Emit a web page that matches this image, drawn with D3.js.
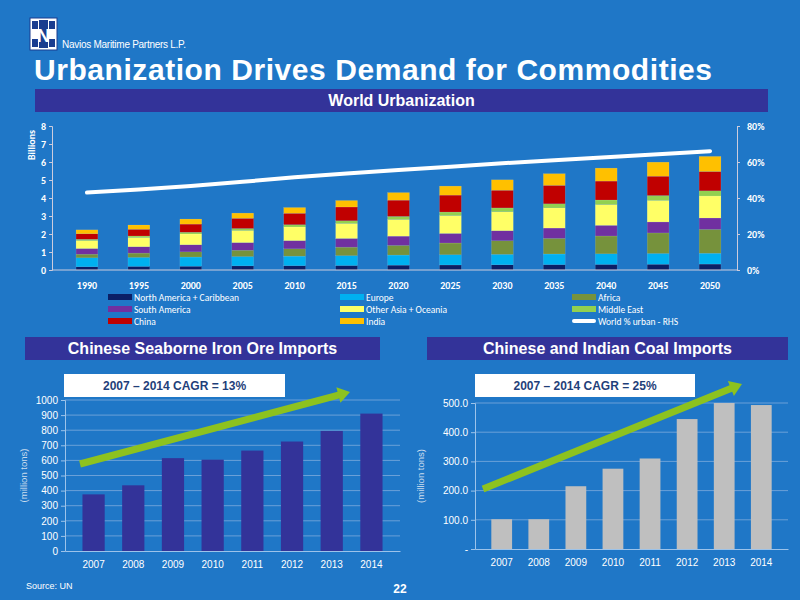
<!DOCTYPE html>
<html><head><meta charset="utf-8">
<script src="https://cdn.jsdelivr.net/npm/d3@7"></script>
<style>body{margin:0;background:#1f77c7}svg{display:block}</style>
</head><body><svg width="800" height="600"></svg>
<script>
const years=["1990","1995","2000","2005","2010","2015","2020","2025","2030","2035","2040","2045","2050"];
const northAmerica=[0.18,0.2,0.21,0.23,0.24,0.25,0.27,0.28,0.29,0.3,0.31,0.32,0.33];
const europe=[0.5,0.5,0.51,0.52,0.53,0.55,0.56,0.57,0.58,0.59,0.59,0.6,0.6];
const africa=[0.2,0.24,0.29,0.35,0.41,0.47,0.54,0.65,0.76,0.87,0.99,1.14,1.33];
const southAmerica=[0.31,0.35,0.39,0.42,0.45,0.48,0.51,0.53,0.55,0.57,0.59,0.61,0.63];
const otherAsia=[0.45,0.52,0.6,0.68,0.76,0.84,0.93,1.0,1.06,1.12,1.16,1.2,1.22];
const middleEast=[0.07,0.08,0.1,0.11,0.13,0.15,0.17,0.19,0.21,0.23,0.25,0.27,0.29];
const china=[0.3,0.37,0.45,0.56,0.63,0.76,0.9,0.94,0.98,1.02,1.05,1.07,1.07];
const india=[0.22,0.24,0.28,0.29,0.32,0.36,0.42,0.5,0.58,0.65,0.72,0.78,0.84];
const urbanPct=[43,44.7,46.6,49,51.5,53.6,55.5,57.4,59.3,61,62.6,64.3,66];
const importYears=["2007","2008","2009","2010","2011","2012","2013","2014"];
const ironOre=[375,435,615,605,665,725,795,910];
const coal=[102,102,215,275,310,445,500,493];

const svg=d3.select("svg");
const F="Liberation Sans, Arial, sans-serif";
const CF="Carlito, Liberation Sans, Arial, sans-serif";
svg.append("rect").attr("width",800).attr("height",600).attr("fill","#1f77c7");
const lg=svg.append("g").attr("transform","translate(30,18)");
lg.append("rect").attr("width",27).attr("height",32).attr("fill","#fff").attr("stroke","#1a3d8f");
[[2,3],[2,21],[19,3],[19,21]].forEach(p=>lg.append("rect").attr("x",p[0]).attr("y",p[1]).attr("width",6).attr("height",8).attr("fill","#1a3d8f"));
lg.append("rect").attr("x",9).attr("y",2).attr("width",9).attr("height",28).attr("fill","#1a3d8f");
lg.append("text").attr("x",13.5).attr("y",24).attr("text-anchor","middle").attr("font-family",F).attr("font-weight","bold").attr("font-size",18).attr("fill","#fff").text("N");
svg.append("text").attr("x",62).attr("y",48).attr("font-family",F).attr("font-size",10).attr("fill","#fff").attr("textLength",124).text("Navios Maritime Partners L.P.");
svg.append("text").attr("x",34).attr("y",80).attr("font-family",F).attr("font-weight","bold").attr("font-size",30).attr("fill","#fff").attr("textLength",678).text("Urbanization Drives Demand for Commodities");
function banner(x,y,w,h,t,fs){svg.append("rect").attr("x",x).attr("y",y).attr("width",w).attr("height",h).attr("fill","#333399");
 svg.append("text").attr("x",x+w/2).attr("y",y+h/2+fs*0.36).attr("text-anchor","middle").attr("font-family",F).attr("font-weight","bold").attr("font-size",fs).attr("fill","#fff").text(t);}
banner(35,89,733,23,"World Urbanization",16);

const series=[northAmerica,europe,africa,southAmerica,otherAsia,middleEast,china,india];
const colors=["#0b1f66","#00b0f0","#76923c","#7030a0","#ffff66","#92d050","#c00000","#ffc000"];
const names=["North America + Caribbean","Europe","Africa","South America","Other Asia + Oceania","Middle East","China","India"];
const x=d3.scaleBand().domain(years).range([61,736]).paddingInner(0.58).paddingOuter(0.29);
const y=d3.scaleLinear().domain([0,8]).range([270,126]);
const y2=d3.scaleLinear().domain([0,0.8]).range([270,126]);
const rows=years.map((yr,i)=>{const o={year:yr};series.forEach((s,k)=>o["s"+k]=s[i]);return o;});
const stack=d3.stack().keys(series.map((s,k)=>"s"+k))(rows);
svg.append("g").selectAll("g").data(stack).join("g").attr("fill",(d,k)=>colors[k])
 .selectAll("rect").data(d=>d).join("rect").attr("x",d=>x(d.data.year)).attr("width",x.bandwidth())
 .attr("y",d=>y(d[1])).attr("height",d=>y(d[0])-y(d[1])).attr("stroke","rgba(255,255,255,0.25)").attr("stroke-width",0.4);
const ax=svg.append("g").attr("transform","translate(52,0)").call(d3.axisLeft(y).ticks(8).tickSize(3));
ax.select(".domain").attr("stroke","#ccd");
const ax2=svg.append("g").attr("transform","translate(737,0)").call(d3.axisRight(y2).ticks(4).tickFormat(d3.format(".0%")).tickSize(3));
ax2.select(".domain").attr("stroke","#ccd");
svg.append("line").attr("x1",52).attr("x2",737).attr("y1",270).attr("y2",270).attr("stroke","#ccd");
const axb=svg.append("g").attr("transform","translate(0,270)").call(d3.axisBottom(x).tickSize(0).tickPadding(12));
axb.select(".domain").remove();
[ax,ax2,axb].forEach(a=>{a.selectAll("text").attr("fill","#fff").attr("font-family",CF).attr("font-weight","bold").attr("font-size",10);a.selectAll("line").attr("stroke","#ccd");});
ax2.selectAll("text").attr("dx",4);
svg.append("text").attr("transform","translate(35,145) rotate(-90)").attr("text-anchor","middle").attr("font-family",CF).attr("font-weight","bold").attr("font-size",10).attr("fill","#fff").text("Billions");
svg.append("path").datum(urbanPct).attr("fill","none").attr("stroke","#fff").attr("stroke-width",4).attr("stroke-linecap","round")
 .attr("d",d3.line().x((d,i)=>x(years[i])+x.bandwidth()/2).y(d=>y2(d/100)));
const cols=[108,340,572];
names.forEach((nm,k)=>{const c=k%3,r=Math.floor(k/3);const gx=cols[c],gy=298+r*12;
 svg.append("rect").attr("x",gx).attr("y",gy-4).attr("width",24).attr("height",6).attr("fill",colors[k]);
 svg.append("text").attr("x",gx+26).attr("y",gy+2.5).attr("font-family",CF).attr("font-size",9.5).attr("fill","#fff").text(nm);});
{const gx=cols[2],gy=322;svg.append("rect").attr("x",gx).attr("y",gy-3).attr("width",24).attr("height",4).attr("rx",2).attr("fill","#fff");
 svg.append("text").attr("x",gx+26).attr("y",gy+2.5).attr("font-family",CF).attr("font-size",9.5).attr("fill","#fff").text("World % urban - RHS");}

function lower(o){
 banner(o.bx,337,o.bw,23,o.title,16);
 const xs=d3.scaleBand().domain(importYears).range([o.x0,o.x1]).padding(0.44);
 const ys=d3.scaleLinear().domain([0,o.max]).range([o.y0,o.y1]);
 const g=svg.append("g");
 g.append("g").selectAll("line").data(ys.ticks(o.nt).filter(d=>d>0)).join("line").attr("x1",o.x0).attr("x2",o.x1).attr("y1",d=>ys(d)).attr("y2",d=>ys(d)).attr("stroke","#6aa0d8").attr("stroke-width",1);
 g.selectAll("rect.b").data(o.data).join("rect").attr("class","b").attr("x",(d,i)=>xs(importYears[i])).attr("width",xs.bandwidth()).attr("y",d=>ys(d)).attr("height",d=>o.y0-ys(d)).attr("fill",o.color);
 const al=g.append("g").attr("transform",`translate(${o.x0},0)`).call(d3.axisLeft(ys).ticks(o.nt).tickFormat(o.fmt).tickSize(4));
 const ab=g.append("g").attr("transform",`translate(0,${o.y0})`).call(d3.axisBottom(xs).tickSize(0).tickPadding(10));
 [al,ab].forEach(a=>{a.selectAll("text").attr("fill","#fff").attr("font-family",F).attr("font-size",10);a.selectAll("line,.domain").attr("stroke","#9cc3ea");});
 g.append("text").attr("transform",`translate(${o.lx},${(o.y0+o.y1)/2}) rotate(-90)`).attr("text-anchor","middle").attr("font-family",F).attr("font-size",9.5).attr("fill","#cde").text("(million tons)");
 g.append("rect").attr("x",o.boxX).attr("y",374).attr("width",o.boxW).attr("height",23).attr("fill","#fff");
 g.append("text").attr("x",o.boxX+o.boxW/2).attr("y",390).attr("text-anchor","middle").attr("font-family",F).attr("font-weight","bold").attr("font-size",12).attr("fill","#1f3f7a").text(o.cagr);
 const [ax0,ay0,ax1,ay1]=o.arrow;const ang=Math.atan2(ay1-ay0,ax1-ax0);
 const L=Math.hypot(ax1-ax0,ay1-ay0);
 g.append("path").attr("transform",`translate(${ax0},${ay0}) rotate(${ang*180/Math.PI})`).attr("fill","#8dc21f")
  .attr("d",`M0,-3.5L${L-12},-3.5L${L-12},-8L${L},0L${L-12},8L${L-12},3.5L0,3.5Z`);
}
lower({bx:25,bw:355,title:"Chinese Seaborne Iron Ore Imports",x0:65,x1:400,y0:551,y1:400,max:1000,nt:10,fmt:d3.format("d"),data:ironOre,color:"#333399",lx:27,boxX:64,boxW:221,cagr:"2007 – 2014 CAGR = 13%",arrow:[80,464,350,392]});
lower({bx:427,bw:361,title:"Chinese and Indian Coal Imports",x0:475,x1:788,y0:549,y1:403,max:500,nt:5,fmt:d=>d===0?"-":d3.format(".1f")(d),data:coal,color:"#bfbfbf",lx:424,boxX:475,boxW:220,cagr:"2007 – 2014 CAGR = 25%",arrow:[483,489,742,384]});
svg.append("text").attr("x",26).attr("y",589).attr("font-family",F).attr("font-size",9).attr("fill","#fff").text("Source: UN");
svg.append("text").attr("x",400).attr("y",593).attr("text-anchor","middle").attr("font-family",F).attr("font-weight","bold").attr("font-size",12).attr("fill","#fff").text("22");
</script></body></html>
